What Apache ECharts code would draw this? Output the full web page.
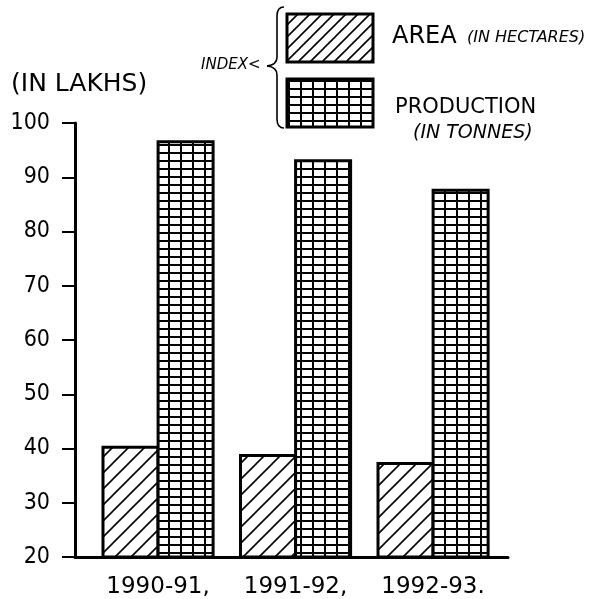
<!DOCTYPE html>
<html lang="en">

<head>
    <meta charset="UTF-8">
    <title>Area and production</title>
    <script src="https://cdn.jsdelivr.net/npm/echarts@6/dist/echarts.min.js"></script>
    <style>
        body {
            overflow: hidden;
            padding: 0;
            margin: 0;
            background: #fff;
        }
    </style>
</head>

<body>
    <div id="main" style="width: 599px;height:599px;"></div>
</body>
<script>
    var categories = ['1990-91,', '1991-92,', '1992-93.'];
    var areaValues = [40.5, 39, 37.5];
    var productionValues = [96.8, 93.3, 87.9];

    var narrow = '"DejaVu Sans Condensed", "DejaVu Sans", sans-serif';
    var font = '"DejaVu Sans", sans-serif';

    // diagonal "/" hatching
    function hatch(size, lw) {
        var c = document.createElement('canvas');
        c.width = size;
        c.height = size;
        var ctx = c.getContext('2d');
        ctx.fillStyle = '#fff';
        ctx.fillRect(0, 0, size, size);
        ctx.strokeStyle = '#000';
        ctx.lineWidth = lw;
        ctx.beginPath();
        ctx.moveTo(0, size);
        ctx.lineTo(size, 0);
        ctx.moveTo(-2, 2);
        ctx.lineTo(2, -2);
        ctx.moveTo(size - 2, size + 2);
        ctx.lineTo(size + 2, size - 2);
        ctx.stroke();
        return { image: c, repeat: 'repeat' };
    }

    // square grid hatching
    function mesh(w, h) {
        var c = document.createElement('canvas');
        c.width = w;
        c.height = h;
        var ctx = c.getContext('2d');
        ctx.fillStyle = '#fff';
        ctx.fillRect(0, 0, w, h);
        ctx.fillStyle = '#000';
        ctx.fillRect(0, 0, 2, h);
        ctx.fillRect(0, 0, w, 2);
        return { image: c, repeat: 'repeat' };
    }

    var areaFill = hatch(16, 1.6);
    var prodFill = mesh(12, 8);

    var braceStyle = { fill: null, stroke: '#000', lineWidth: 1.6 };

    function curve(x1, y1, cx, cy, x2, y2) {
        return {
            type: 'bezierCurve',
            shape: { x1: x1, y1: y1, cpx1: cx, cpy1: cy, x2: x2, y2: y2 },
            style: braceStyle
        };
    }

    function seg(x1, y1, x2, y2) {
        return {
            type: 'line',
            shape: { x1: x1, y1: y1, x2: x2, y2: y2 },
            style: braceStyle
        };
    }

    var app = echarts.init(document.getElementById('main'));

    var option = {
        animation: false,
        backgroundColor: '#fff',
        title: {
            text: '(IN LAKHS)',
            left: 6,
            top: 67,
            textStyle: { fontFamily: font, fontSize: 25, fontWeight: 'normal', color: '#000' }
        },
        grid: {
            left: 75,
            right: 91,
            top: 123,
            bottom: 41
        },
        xAxis: {
            type: 'value',
            min: -0.604,
            max: 2.545,
            splitLine: { show: false },
            axisTick: { show: false },
            axisLine: { show: true, onZero: false, lineStyle: { color: '#000', width: 3 } },
            axisLabel: {
                customValues: [0, 1, 2],
                margin: 19,
                color: '#000',
                fontFamily: font,
                fontSize: 23,
                formatter: function(v) {
                    return categories[Math.round(v)];
                }
            }
        },
        yAxis: {
            type: 'value',
            min: 20,
            max: 100,
            interval: 10,
            splitLine: { show: false },
            axisLine: { show: true, onZero: false, lineStyle: { color: '#000', width: 3 } },
            axisTick: { show: true, length: 13, lineStyle: { color: '#000', width: 2 } },
            axisLabel: { margin: 25, color: '#000', fontFamily: narrow, fontSize: 23 }
        },
        series: [{
            name: 'AREA',
            type: 'bar',
            barWidth: 58,
            barGap: '-5%',
            itemStyle: { color: areaFill, borderColor: '#000', borderWidth: 3 },
            data: categories.map(function(c, i) { return [i, areaValues[i]]; })
        }, {
            name: 'PRODUCTION',
            type: 'bar',
            barWidth: 58,
            barGap: '-5%',
            itemStyle: { color: prodFill, borderColor: '#000', borderWidth: 3 },
            data: categories.map(function(c, i) { return [i, productionValues[i]]; })
        }],
        // hand drawn key at the top
        graphic: [{
            type: 'rect',
            shape: { x: 287, y: 14, width: 86, height: 48 },
            style: { fill: hatch(12, 1.6), stroke: '#000', lineWidth: 3 }
        }, {
            type: 'rect',
            shape: { x: 287, y: 79, width: 86, height: 48 },
            style: { fill: mesh(12, 8), stroke: '#000', lineWidth: 3 }
        },
            curve(284, 7, 277, 7, 277, 16),
            seg(277, 16, 277, 57),
            curve(277, 57, 277, 65, 267, 66),
            curve(267, 66, 277, 67, 277, 75),
            seg(277, 75, 277, 119),
            curve(277, 119, 277, 128, 284, 128),
        {
            type: 'text',
            x: 201,
            y: 65,
            style: { text: 'INDEX<', fill: '#000', font: 'italic 15px ' + font, verticalAlign: 'middle' }
        }, {
            type: 'text',
            x: 392,
            y: 37,
            style: { text: 'AREA', fill: '#000', font: '24px ' + font, verticalAlign: 'middle' }
        }, {
            type: 'text',
            x: 467,
            y: 38,
            style: { text: '(IN HECTARES)', fill: '#000', font: 'italic 16px ' + font, verticalAlign: 'middle' }
        }, {
            type: 'text',
            x: 395,
            y: 108,
            style: { text: 'PRODUCTION', fill: '#000', font: '21px ' + font, verticalAlign: 'middle' }
        }, {
            type: 'text',
            x: 413,
            y: 133,
            style: { text: '(IN TONNES)', fill: '#000', font: 'italic 19px ' + font, verticalAlign: 'middle' }
        }]
    };
    app.setOption(option);
</script>

</html>
